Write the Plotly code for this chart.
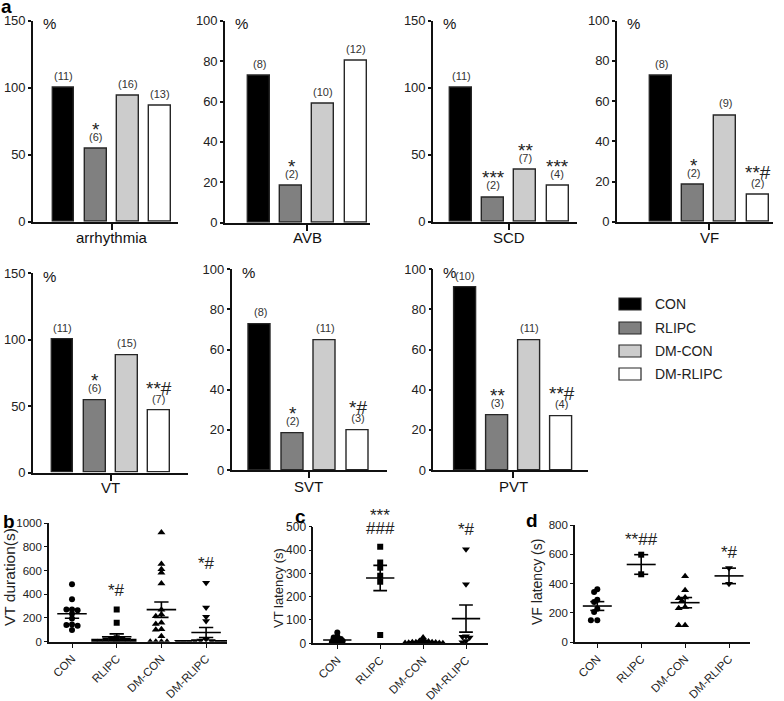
import plotly.graph_objects as go

W, H = 784, 701
FONT = "Arial, Liberation Sans, sans-serif"

groups = ["CON", "RLIPC", "DM-CON", "DM-RLIPC"]
bar_colors = ["#000000", "#808080", "#cccccc", "#ffffff"]

# ---- panel a: incidence (%) ----
arrhythmia_pct = [100, 54.5, 94.1, 86.7]
arrhythmia_n = ["(11)", "(6)", "(16)", "(13)"]
arrhythmia_sig = ["", "*", "", ""]

avb_pct = [72.7, 18.2, 58.8, 80.0]
avb_n = ["(8)", "(2)", "(10)", "(12)"]
avb_sig = ["", "*", "", ""]

scd_pct = [100, 18.2, 38.9, 26.7]
scd_n = ["(11)", "(2)", "(7)", "(4)"]
scd_sig = ["", "***", "**", "***"]

vf_pct = [72.7, 18.2, 52.9, 13.3]
vf_n = ["(8)", "(2)", "(9)", "(2)"]
vf_sig = ["", "*", "", "**#"]

vt_pct = [100, 54.5, 88.2, 46.7]
vt_n = ["(11)", "(6)", "(15)", "(7)"]
vt_sig = ["", "*", "", "**#"]

svt_pct = [72.7, 18.2, 64.7, 20.0]
svt_n = ["(8)", "(2)", "(11)", "(3)"]
svt_sig = ["", "*", "", "*#"]

pvt_pct = [90.9, 27.3, 64.7, 26.7]
pvt_n = ["(10)", "(3)", "(11)", "(4)"]
pvt_sig = ["", "**", "", "**#"]

# ---- panel b: VT duration (s) ----
vtdur_con = [483, 357, 272, 272, 265, 235, 195, 145, 140, 135, 98]
vtdur_rlipc = [272, 160, 30, 20, 15, 10, 5, 0, 0, 0, 0]
vtdur_dmcon = [920, 655, 610, 580, 490, 270, 230, 215, 160, 150, 105, 100, 45, 0, 0, 0, 0]
vtdur_dmrlipc = [497, 289, 211, 174, 20, 10, 5, 5, 0, 0, 0, 0, 0, 0, 0]
vtdur_mean = [235, 42, 270, 78]
vtdur_sem = [38, 24, 65, 42]
vtdur_sig = ["", "*#", "", "*#"]
vtdur_sig_y = [0, 435, 0, 655]

# ---- panel c: VT latency (s) ----
vtlat_con = [46, 30, 25, 20, 18, 15, 12, 10, 8, 5, 3]
vtlat_rlipc = [414, 346, 324, 290, 264, 36]
vtlat_dmcon = [25, 15, 10, 8, 8, 5, 5, 5, 3, 3, 2, 2, 1, 1, 0]
vtlat_dmrlipc = [403, 253, 30, 28, 25, 10, 5]
vtlat_mean = [14, 280, 6, 106]
vtlat_sem = [4, 54, 2, 58]
vtlat_sig = ["", "***", "", "*#"]
vtlat_sig_y = [0, 548, 0, 486]
vtlat_sig2 = ["", "###", "", ""]
vtlat_sig2_y = [0, 494, 0, 0]

# ---- panel d: VF latency (s) ----
vflat_con = [360, 342, 289, 273, 228, 205, 148, 148]
vflat_rlipc = [597, 463]
vflat_dmcon = [449, 353, 305, 300, 280, 240, 230, 115, 115]
vflat_dmrlipc = [506, 399]
vflat_mean = [246, 530, 269, 452]
vflat_sem = [30, 67, 35, 53]
vflat_sig = ["", "**##", "", "*#"]
vflat_sig_y = [0, 704, 0, 609]

fig = go.Figure()
layout = {}
annotations = []
shapes = []


def ax_names(k):
    return ("x" if k == 1 else f"x{k}", "y" if k == 1 else f"y{k}",
            "xaxis" if k == 1 else f"xaxis{k}", "yaxis" if k == 1 else f"yaxis{k}")


# geometry (pixels): x0, xend, first centre, spacing, y zero, y top, ymax, dtick, label y
bar_panels = [
    ("arrhythmia", arrhythmia_pct, arrhythmia_n, arrhythmia_sig, 33, 178, 63.5, 32.3, 221.7, 20.7, 150, 50, 238),
    ("AVB", avb_pct, avb_n, avb_sig, 225, 370, 259, 32.2, 222.7, 20.7, 100, 20, 238),
    ("SCD", scd_pct, scd_n, scd_sig, 433, 577, 461, 32.2, 221.7, 20.7, 150, 50, 238),
    ("VF", vf_pct, vf_n, vf_sig, 617, 773, 661, 32.2, 221.7, 20.7, 100, 20, 238),
    ("VT", vt_pct, vt_n, vt_sig, 33, 188, 62.5, 32.3, 472.7, 273.3, 150, 50, 487),
    ("SVT", svt_pct, svt_n, svt_sig, 231.7, 387, 260, 32.5, 470, 269.3, 100, 20, 486),
    ("PVT", pvt_pct, pvt_n, pvt_sig, 433.3, 588, 465, 32.2, 470, 269.3, 100, 20, 486),
]

k = 0
for (label, vals, ns, sigs, x0, xe, c0, s, yz, yt, ymax, dt, ly) in bar_panels:
    k += 1
    xr, yr, xa, ya = ax_names(k)
    fig.add_trace(go.Bar(x=list(range(4)), y=vals, width=0.68,
                         marker=dict(color=bar_colors, line=dict(color="#262626", width=1.4)),
                         xaxis=xr, yaxis=yr, showlegend=False, hoverinfo="skip"))
    layout[xa] = dict(domain=[x0 / W, xe / W], anchor=yr,
                      range=[(x0 - c0) / s, (xe - c0) / s],
                      showline=True, linecolor="#111", linewidth=1.6,
                      tickvals=[1.5], ticktext=[""], ticks="outside", ticklen=6,
                      tickwidth=1.6, tickcolor="#111",
                      showgrid=False, zeroline=False, fixedrange=True)
    layout[ya] = dict(domain=[1 - yz / H, 1 - yt / H], anchor=xr,
                      range=[0, ymax], showline=True, linecolor="#111", linewidth=1.6,
                      tickvals=list(range(0, ymax + 1, dt)), ticks="outside", ticklen=3,
                      tickwidth=1.6, tickcolor="#111",
                      tickfont=dict(size=13, color="#222", family=FONT),
                      showgrid=False, zeroline=False, fixedrange=True)
    annotations.append(dict(text=label, x=1.5, xref=xr, yref="paper", y=1 - ly / H,
                            xanchor="center", yanchor="middle", showarrow=False,
                            font=dict(size=15, color="#111", family=FONT)))
    annotations.append(dict(text="%", xref="paper", yref="paper", x=(x0 + 8) / W,
                            y=1 - (yt + 3) / H, xanchor="left", yanchor="middle",
                            showarrow=False, font=dict(size=15, color="#111", family=FONT)))
    for i in range(4):
        n_span = f"<span style='font-size:11px;color:#333'>{ns[i]}</span>"
        if sigs[i]:
            base = 6 if "#" in sigs[i] else 4
            text = f"<span style='font-size:19px'>{sigs[i]}</span><br>{n_span}"
        else:
            base = 11
            text = n_span
        annotations.append(dict(text=text, x=i, y=vals[i], xref=xr, yref=yr,
                                xanchor="center", yanchor="bottom", yshift=4,
                                showarrow=False, font=dict(size=base, color="#222", family=FONT)))

# legend (drawn as shapes + text)
leg_rows = [304, 328, 351, 374]
for i, g in enumerate(groups):
    cy = leg_rows[i]
    shapes.append(dict(type="rect", xref="paper", yref="paper", x0=619 / W, x1=641 / W,
                       y0=1 - (cy + 6) / H, y1=1 - (cy - 6) / H,
                       fillcolor=bar_colors[i], line=dict(color="#262626", width=1.2)))
    annotations.append(dict(text=g, xref="paper", yref="paper", x=653 / W, y=1 - cy / H,
                            xanchor="left", yanchor="middle", showarrow=False,
                            font=dict(size=14, color="#222", family=FONT)))

# ---- scatter panels ----
symbols = ["circle", "square", "triangle-up", "triangle-down"]
msizes = [6, 6, 7, 7]
scatter_panels = [
    ("VT duration(s)", [vtdur_con, vtdur_rlipc, vtdur_dmcon, vtdur_dmrlipc], vtdur_mean, vtdur_sem,
     [(vtdur_sig, vtdur_sig_y)], 49, 227, 72, 44.7, 641.7, 523, 1000, 200, 9, 577, 15.5, 11.5, 2.8),
    ("VT latency (s)", [vtlat_con, vtlat_rlipc, vtlat_dmcon, vtlat_dmrlipc], vtlat_mean, vtlat_sem,
     [(vtlat_sig, vtlat_sig_y), (vtlat_sig2, vtlat_sig2_y)], 313.3, 488, 337.3, 42.9, 643.3, 526.7,
     500, 100, 278, 588, 13, 12, 1.8),
    ("VF latency (s)", [vflat_con, vflat_rlipc, vflat_dmcon, vflat_dmrlipc], vflat_mean, vflat_sem,
     [(vflat_sig, vflat_sig_y)], 575, 750, 597.3, 43.9, 642, 525, 800, 200, 537, 582, 14, 11.5, 3.2),
]


def swarm(vals, ppu, step, mind, s):
    placed = []
    offs = [0.0] * len(vals)
    order = sorted(range(len(vals)), key=lambda j: -vals[j])
    for j in order:
        y = vals[j] * ppu
        cands = [0.0]
        for m in range(1, 16):
            cands += [-m * step, m * step]
        for c in cands:
            if all((c - px) ** 2 + (y - py) ** 2 >= mind ** 2 for px, py in placed):
                placed.append((c, y))
                offs[j] = c / s
                break
    return offs


for (title, series, means, sems, siglist, x0, xe, c0, s, yz, yt, ymax, dt, tx, ty, tfs, tkfs, stp) in scatter_panels:
    k += 1
    xr, yr, xa, ya = ax_names(k)
    ppu = (yz - yt) / ymax
    for i, vals in enumerate(series):
        offs = swarm(vals, ppu, stp, stp * 1.2, s)
        fig.add_trace(go.Scatter(x=[i + o for o in offs], y=vals, mode="markers",
                                 marker=dict(symbol=symbols[i], size=msizes[i], color="#000"),
                                 xaxis=xr, yaxis=yr, showlegend=False, hoverinfo="skip"))
        m, e = means[i], sems[i]
        lx, lyy = [], []
        lx += [i - 0.33, i + 0.33, None]
        lyy += [m, m, None]
        lx += [i, i, None]
        lyy += [m - e, m + e, None]
        lx += [i - 0.16, i + 0.16, None, i - 0.16, i + 0.16]
        lyy += [m + e, m + e, None, m - e, m - e]
        fig.add_trace(go.Scatter(x=lx, y=lyy, mode="lines", line=dict(color="#000", width=1.6),
                                 xaxis=xr, yaxis=yr, showlegend=False, hoverinfo="skip"))
    layout[xa] = dict(domain=[x0 / W, xe / W], anchor=yr,
                      range=[(x0 - c0) / s, (xe - c0) / s],
                      showline=True, linecolor="#111", linewidth=1.6,
                      tickvals=list(range(4)), ticktext=groups, ticks="outside", ticklen=4,
                      tickwidth=1.4, tickcolor="#111", tickangle=-45,
                      tickfont=dict(size=11.5, color="#222", family=FONT),
                      showgrid=False, zeroline=False, fixedrange=True)
    layout[ya] = dict(domain=[1 - yz / H, 1 - yt / H], anchor=xr,
                      range=[0, ymax], showline=True, linecolor="#111", linewidth=1.6,
                      tickvals=list(range(0, ymax + 1, dt)), ticks="outside", ticklen=3,
                      tickwidth=1.4, tickcolor="#111",
                      tickfont=dict(size=tkfs, color="#222", family=FONT),
                      showgrid=False, zeroline=False, fixedrange=True)
    annotations.append(dict(text=title, xref="paper", yref="paper", x=tx / W,
                            y=1 - ty / H, textangle=-90, xanchor="center",
                            yanchor="middle", showarrow=False,
                            font=dict(size=tfs, color="#222", family=FONT)))
    # significance marks placed in paper coordinates (some sit above the axis top)
    for sigs, sig_y in siglist:
        for i in range(4):
            if sigs[i]:
                px_ = c0 + i * s
                py_ = yz - sig_y[i] * ppu
                annotations.append(dict(text=sigs[i], x=px_ / W, y=1 - py_ / H,
                                        xref="paper", yref="paper",
                                        xanchor="center", yanchor="middle", showarrow=False,
                                        font=dict(size=17, color="#222", family=FONT)))

# panel letters
for letter, px, py in [("a", 6, 7), ("b", 9, 521), ("c", 300, 516), ("d", 532, 520)]:
    annotations.append(dict(text=f"<b>{letter}</b>", xref="paper", yref="paper",
                            x=px / W, y=1 - py / H, xanchor="center", yanchor="middle",
                            showarrow=False, font=dict(size=19, color="#000", family=FONT)))

fig.update_layout(width=W, height=H,
                  margin=dict(l=0, r=0, t=0, b=0, pad=0, autoexpand=False),
                  paper_bgcolor="white", plot_bgcolor="white",
                  annotations=annotations, shapes=shapes, bargap=0, **layout)
fig.write_html("out.html", config={"displayModeBar": False},
               post_script="document.body.style.margin='0px';"
                           "document.body.style.overflow='hidden';"
                           "document.documentElement.style.overflow='hidden';")
